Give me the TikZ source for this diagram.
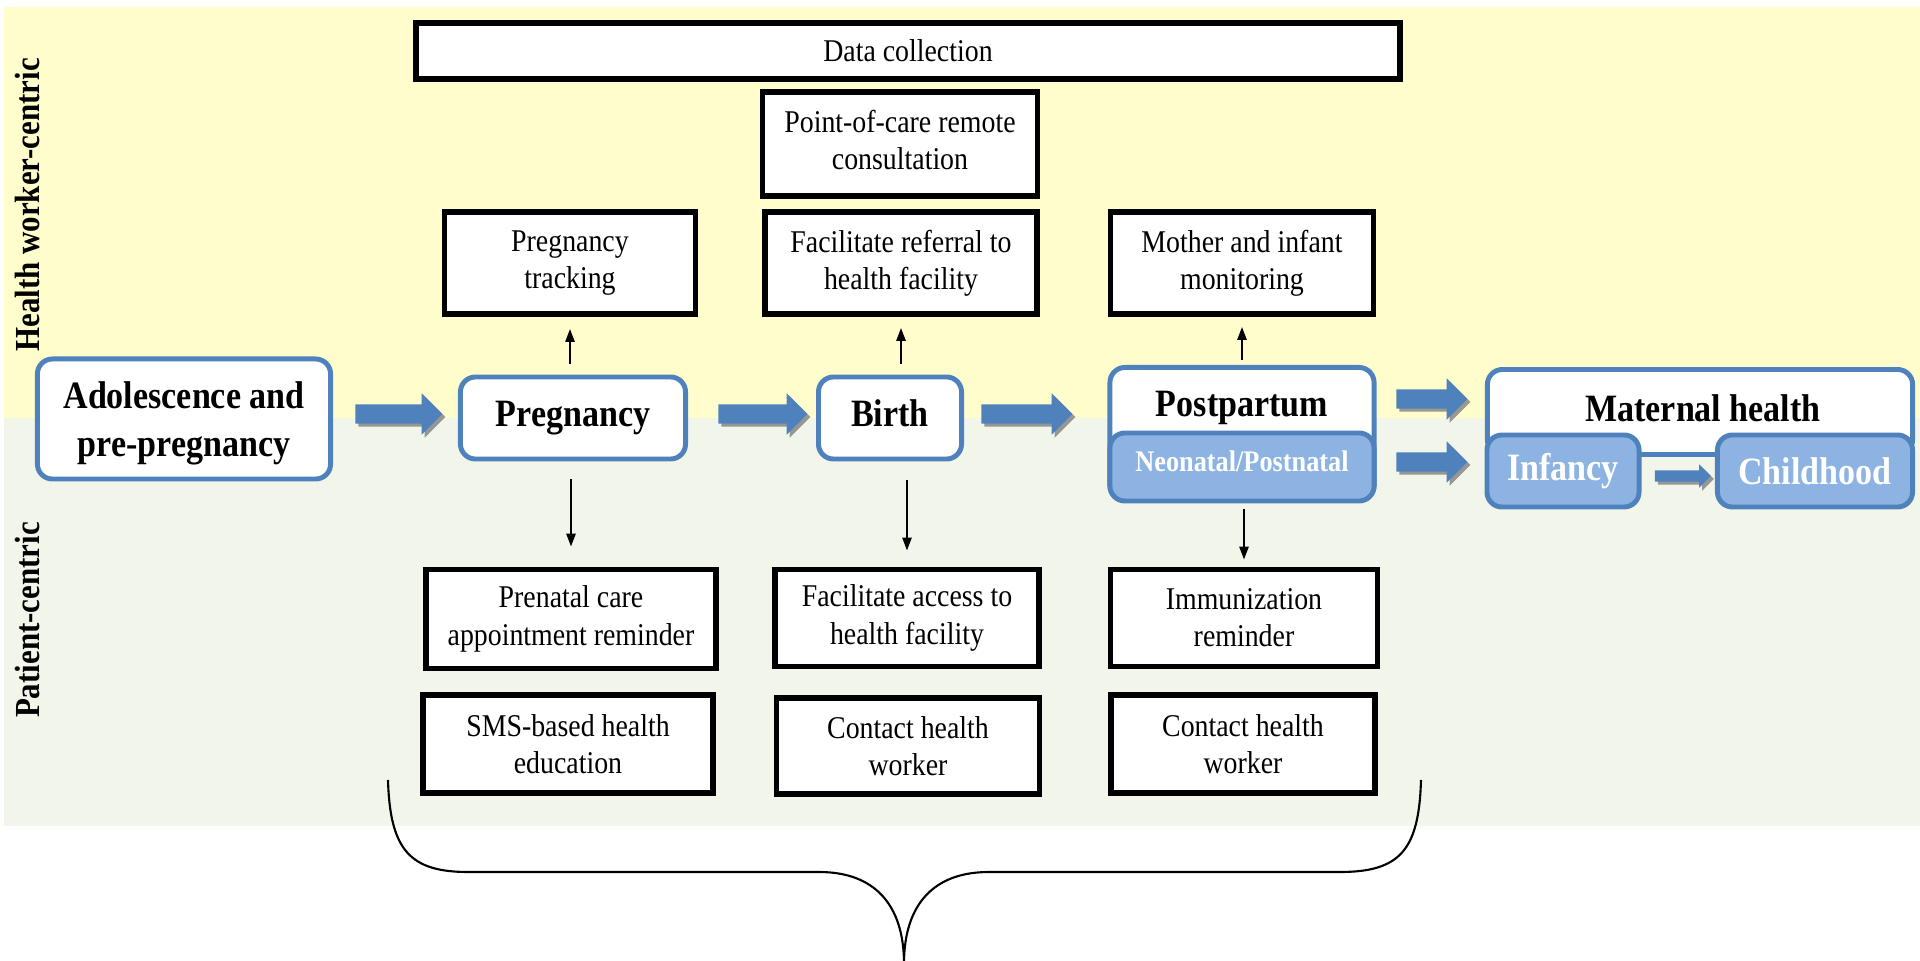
\documentclass[tikz,border=0pt]{standalone}
\usepackage{fontspec}
\setmainfont{Liberation Serif}[FakeStretch=0.88]
\usetikzlibrary{arrows.meta,shapes.arrows,shadows,calc}
\definecolor{bandyellow}{RGB}{255,253,204}
\definecolor{bandgreen}{RGB}{242,245,234}
\definecolor{edgeblue}{RGB}{79,129,189}
\definecolor{fillblue}{RGB}{141,179,226}
\definecolor{shadegray}{RGB}{128,128,128}
\begin{document}
\begin{tikzpicture}[x=0.01cm,y=-0.01cm,
  task/.style={draw=black, line width=1.6pt, fill=white, align=center, inner sep=0pt,
    font=\fontsize{9}{10.6}\selectfont,
    drop shadow={shadow xshift=0.025cm, shadow yshift=-0.025cm, fill=black!45, opacity=1}},
  stage/.style={draw=edgeblue, line width=1.4pt, fill=white, rounded corners=0.15cm,
    align=center, inner sep=0pt, font=\fontsize{11}{13.6}\selectfont\bfseries},
  substage/.style={stage, fill=fillblue, text=white},
  stagetext/.style={inner sep=0pt, font=\fontsize{11}{13.6}\selectfont\bfseries},
  oneline/.style={text height=0.68em, text depth=0.22em},
  flow/.style={single arrow, fill=edgeblue, draw=none, inner xsep=0pt, inner ysep=0.09cm,
    minimum width=0.40cm, single arrow head extend=0.11cm,
    drop shadow={shadow xshift=0.03cm, shadow yshift=-0.03cm, fill=shadegray, opacity=0.8}},
  smallflow/.style={flow, inner ysep=0.05cm, minimum width=0.22cm, single arrow head extend=0.06cm},
  link/.style={line width=0.7pt, -{Triangle[length=0.13cm,width=0.09cm]}},
  side/.style={rotate=90, inner sep=0pt, font=\fontsize{10}{12}\selectfont\bfseries}
]
\useasboundingbox (0,0) rectangle (1920,961);
\fill[white] (0,0) rectangle (1920,961);

% background bands
\fill[bandyellow] (4,7) rectangle (1920,418);
\fill[bandgreen] (4,418) rectangle (1920,826);
\node[side] (hwc) at (27,205) {Health worker-centric};
\node[side] (pc) at (27,620) {Patient-centric};

% health worker-centric services
\node[task, minimum width=9.83cm, minimum height=0.56cm] (data) at (908,51) {Data collection};
\node[task, minimum width=2.75cm, minimum height=1.04cm, text depth=0.25em] (poc) at (900,144) {Point-of-care remote\\consultation};
\node[task, minimum width=2.51cm, minimum height=1.02cm] (track) at (570,263) {Pregnancy\\tracking};
\node[task, minimum width=2.72cm, minimum height=1.02cm] (refer) at (901,263) {Facilitate referral to\\health facility};
\node[task, minimum width=2.63cm, minimum height=1.02cm] (monitor) at (1242,263) {Mother and infant\\monitoring};

% life stages
\node[stage, minimum width=2.93cm, minimum height=1.20cm, text depth=0pt] (ado) at (184,419) {Adolescence and\\pre-pregnancy};
\node[stage, oneline, minimum width=2.25cm, minimum height=0.82cm] (preg) at (573,418) {Pregnancy};
\node[stage, oneline, minimum width=1.43cm, minimum height=0.82cm] (birth) at (890,418) {Birth};
\node[stage, minimum width=2.64cm, minimum height=1.33cm] (post) at (1242,434) {};
\node[stagetext] (posttxt) at (1242,408) {Postpartum};
\node[substage, minimum width=2.64cm, minimum height=0.68cm] (neo) at (1242,467) {};
\node[stagetext, text=white, font=\fontsize{8.5}{10}\selectfont\bfseries] (neotxt) at (1242,461) {Neonatal/Postnatal};
\node[stage, minimum width=4.25cm, minimum height=0.85cm] (mat) at (1700,412) {};
\node[stagetext] (mattxt) at (1703,408) {Maternal health};
\node[substage, minimum width=1.52cm, minimum height=0.72cm] (inf) at (1563,471) {Infancy};
\node[substage, minimum width=1.95cm, minimum height=0.72cm] (child) at (1815,471) {Childhood};

% flow between stages
\node[flow, minimum height=0.87cm] (f1) at (394,414) {};
\node[flow, minimum height=0.89cm] (f2) at (758,414) {};
\node[flow, minimum height=0.91cm] (f3) at (1022,414) {};
\node[flow, minimum height=0.71cm] (f4) at (1427,399) {};
\node[flow, minimum height=0.71cm] (f5) at (1427,462) {};
\node[smallflow, minimum height=0.56cm] (f6) at (1680,476) {};

% patient-centric services
\node[task, minimum width=2.90cm, minimum height=0.99cm] (prenatal) at (571,619) {Prenatal care\\appointment reminder};
\node[task, minimum width=2.64cm, minimum height=0.97cm] (access) at (907,618) {Facilitate access to\\health facility};
\node[task, minimum width=2.67cm, minimum height=0.97cm] (immun) at (1244,618) {Immunization\\reminder};
\node[task, minimum width=2.90cm, minimum height=0.98cm] (sms) at (568,744) {SMS-based health\\education};
\node[task, minimum width=2.63cm, minimum height=0.96cm] (contact1) at (908,746) {Contact health\\worker};
\node[task, minimum width=2.64cm, minimum height=0.98cm] (contact2) at (1243,744) {Contact health\\worker};

% links from stages to services
\draw[link, shorten <=0.11cm, shorten >=0.12cm] (preg.north -| track.south) -- (track.south);
\draw[link, shorten <=0.11cm, shorten >=0.11cm] (birth.north -| refer.south) -- (refer.south);
\draw[link, shorten <=0.05cm, shorten >=0.10cm] (post.north -| monitor.south) -- (monitor.south);
\draw[link, shorten <=0.18cm, shorten >=0.20cm] (preg.south -| prenatal.north) -- (prenatal.north);
\draw[link, shorten <=0.19cm, shorten >=0.16cm] (birth.south -| access.north) -- (access.north);
\draw[link, shorten <=0.06cm, shorten >=0.07cm] (post.south -| immun.north) -- (immun.north);

% brace under the service columns
\draw[line width=0.6pt]
  (388,780) .. controls (390,850) and (410,872) .. (468,872) -- (819,872)
  .. controls (875,872) and (903,905) .. (904,961)
  .. controls (905,905) and (933,872) .. (989,872) -- (1340,872)
  .. controls (1400,872) and (1419,850) .. (1421,780);
\end{tikzpicture}
\end{document}
